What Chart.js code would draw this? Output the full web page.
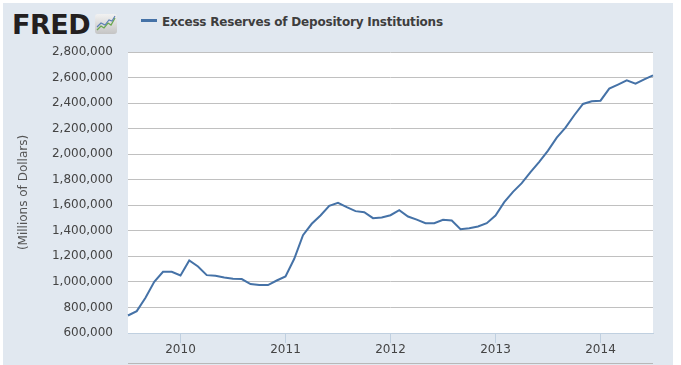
<!DOCTYPE html>
<html>
<head>
<meta charset="utf-8">
<script src="https://cdn.jsdelivr.net/npm/chart.js@4.4.1/dist/chart.umd.min.js"></script>
<style>
  html, body { margin: 0; padding: 0; background: #fff; }
  body { width: 681px; height: 365px; position: relative; overflow: hidden; font-family: "DejaVu Sans", sans-serif; }
  #bg { position: absolute; left: 3px; top: 3px; width: 670px; height: 362px; background: #e1e8f0; }
  #logo { position: absolute; left: 12px; top: 9px; font: bold 27px/normal "DejaVu Sans", sans-serif; color: #231f20; letter-spacing: -0.5px; }
  #icon { position: absolute; left: 95px; top: 14px; }
  #legend { position: absolute; left: 141px; top: 15px; font: bold 12px/normal "DejaVu Sans", sans-serif; color: #3e3e3e; letter-spacing: -0.2px; }
  #legend span.sw { display: inline-block; width: 16px; height: 3px; background: #4572a7; vertical-align: 4px; margin-right: 5px; }
  #wrap { position: absolute; left: 0; top: 0; width: 681px; height: 365px; }
</style>
</head>
<body>
<div id="bg"></div>
<div id="logo">FRED</div>
<svg id="icon" width="22" height="20" viewBox="0 0 22 20">
  <defs><linearGradient id="g" x1="0" y1="0" x2="0" y2="1"><stop offset="0" stop-color="#f2f2f2"/><stop offset="1" stop-color="#c4c4c4"/></linearGradient></defs>
  <rect x="0" y="0" width="22" height="20" rx="3" fill="url(#g)"/>
  <polyline points="2,16 6,12 9,14 13,9 16,11 20,4" fill="none" stroke="#6aa84f" stroke-width="1.3"/>
  <polyline points="2,13 6,9 10,11 14,6 17,7 20,2" fill="none" stroke="#5b7fb5" stroke-width="1.1"/>
</svg>
<div id="legend"><span class="sw"></span>Excess Reserves of Depository Institutions</div>
<div id="wrap"><canvas id="chart"></canvas></div>
<script>
// monthly, Jul 2009 - Jul 2014
const months = [
  "2009-07","2009-08","2009-09","2009-10","2009-11","2009-12",
  "2010-01","2010-02","2010-03","2010-04","2010-05","2010-06","2010-07","2010-08","2010-09","2010-10","2010-11","2010-12",
  "2011-01","2011-02","2011-03","2011-04","2011-05","2011-06","2011-07","2011-08","2011-09","2011-10","2011-11","2011-12",
  "2012-01","2012-02","2012-03","2012-04","2012-05","2012-06","2012-07","2012-08","2012-09","2012-10","2012-11","2012-12",
  "2013-01","2013-02","2013-03","2013-04","2013-05","2013-06","2013-07","2013-08","2013-09","2013-10","2013-11","2013-12",
  "2014-01","2014-02","2014-03","2014-04","2014-05","2014-06","2014-07"
];
const excessReserves = [
  737000, 771000, 876000, 1001000, 1079000, 1079000,
  1050000, 1168000, 1121000, 1053000, 1048000, 1035000, 1024000, 1022000, 983000, 975000, 975000, 1011000,
  1043000, 1181000, 1366000, 1455000, 1520000, 1595000, 1619000, 1585000, 1554000, 1546000, 1499000, 1504000,
  1522000, 1561000, 1512000, 1488000, 1460000, 1460000, 1486000, 1481000, 1413000, 1421000, 1434000, 1460000,
  1520000, 1624000, 1705000, 1773000, 1859000, 1940000, 2028000, 2130000, 2208000, 2305000, 2393000, 2414000,
  2419000, 2513000, 2545000, 2578000, 2552000, 2586000, 2617000
];
const yMin = 600000, yMax = 2800000, yStep = 200000;

const plotBg = {
  id: "plotBg",
  beforeDraw(chart) {
    const { ctx, chartArea: a } = chart;
    ctx.save();
    ctx.fillStyle = "#fff";
    ctx.fillRect(a.left, a.top, a.right - a.left, a.bottom - a.top);
    ctx.restore();
  },
  afterDraw(chart) {
    const { ctx, chartArea: a } = chart;
    ctx.save();
    ctx.fillStyle = "#b8b8b8";
    ctx.fillRect(a.left, 363, a.right - a.left, 1);
    ctx.restore();
  }
};

const axisFont = { family: "DejaVu Sans", size: 12 };

new Chart(document.getElementById("chart"), {
  type: "line",
  data: {
    labels: months,
    datasets: [{
      label: "Excess Reserves of Depository Institutions",
      data: excessReserves,
      borderColor: "#4572a7",
      backgroundColor: "#4572a7",
      borderWidth: 2,
      pointRadius: 0,
      tension: 0
    }]
  },
  options: {
    responsive: true,
    maintainAspectRatio: false,
    animation: false,
    layout: { padding: { left: 10, top: 52, right: 28, bottom: 0 } },
    plugins: { legend: { display: false }, tooltip: { enabled: false } },
    scales: {
      x: {
        offset: false,
        afterFit: s => { s.height = 32; },
        grid: { drawOnChartArea: false, drawTicks: true, tickLength: 10, color: "#c0d0e0" },
        border: { color: "#c0d0e0" },
        ticks: {
          autoSkip: false, maxRotation: 0, padding: 0, color: "#444", font: axisFont,
          callback(v) {
            const l = this.getLabelForValue(v);
            return l.endsWith("-01") ? l.slice(0, 4) : null;
          }
        }
      },
      y: {
        min: yMin, max: yMax,
        afterFit: s => { s.width = 118; },
        grid: {
          drawTicks: false,
          color: c => c.tick && c.tick.value === yMin ? "rgba(0,0,0,0)" : "#c0c0c0"
        },
        border: { display: false },
        ticks: {
          stepSize: yStep, padding: 15, color: "#444", font: axisFont,
          callback: v => v.toLocaleString("en-US")
        },
        title: {
          display: true, text: "(Millions of Dollars)", color: "#555",
          font: axisFont, padding: { top: 7, bottom: 0 }
        }
      }
    }
  },
  plugins: [plotBg]
});
</script>
</body>
</html>
